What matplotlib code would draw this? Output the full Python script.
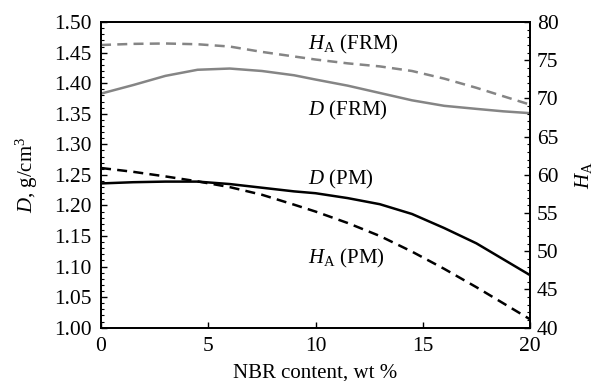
import matplotlib
matplotlib.use('Agg')
import matplotlib.pyplot as plt
from matplotlib.ticker import MultipleLocator

plt.rcParams['font.family'] = ['Liberation Serif', 'DejaVu Serif']
plt.rcParams['mathtext.fontset'] = 'custom'
plt.rcParams['mathtext.rm'] = 'Liberation Serif'
plt.rcParams['mathtext.it'] = 'Liberation Serif:italic'

# NBR content, wt %
nbr = [0, 1.5, 3, 4.5, 6, 7.5, 9, 10, 11.5, 13, 14.5, 16, 17.5, 18.75, 20]
# density, g/cm3 (left axis)
d_frm = [1.383, 1.397, 1.412, 1.422, 1.424, 1.420, 1.413, 1.406, 1.396, 1.384,
         1.372, 1.363, 1.358, 1.354, 1.351]
d_pm = [1.236, 1.238, 1.239, 1.239, 1.235, 1.229, 1.223, 1.220, 1.212, 1.202,
        1.186, 1.163, 1.138, 1.112, 1.086]
# hardness H_A (right axis)
ha_frm = [77.0, 77.15, 77.2, 77.1, 76.8, 76.1, 75.5, 75.1, 74.6, 74.2,
          73.6, 72.6, 71.4, 70.3, 69.2]
ha_pm = [60.9, 60.4, 59.8, 59.15, 58.4, 57.4, 56.1, 55.2, 53.7, 52.0,
         49.95, 47.7, 45.3, 43.2, 41.1]

gray = '#858585'
fs = 15

fig, ax = plt.subplots(figsize=(6.05, 3.81), dpi=100)
fig.subplots_adjust(left=0.167, right=0.876, top=0.942, bottom=0.14)
ax2 = ax.twinx()

ax.plot(nbr, d_frm, color=gray, lw=1.8)
ax.plot(nbr, d_pm, color='black', lw=1.8)
ax2.plot(nbr, ha_frm, color=gray, lw=1.8, ls=(0, (4, 2.5)))
ax2.plot(nbr, ha_pm, color='black', lw=1.8, ls=(0, (4, 2.5)))

ax.set_xlim(0, 20)
ax.set_ylim(1.0, 1.5)
ax2.set_ylim(40, 80)
ax.xaxis.set_major_locator(MultipleLocator(5))
ax.yaxis.set_major_locator(MultipleLocator(0.05))
ax.yaxis.set_minor_locator(MultipleLocator(0.01))
ax2.yaxis.set_major_locator(MultipleLocator(5))
ax2.yaxis.set_minor_locator(MultipleLocator(1))
ax.yaxis.set_major_formatter(plt.FormatStrFormatter('%.2f'))

for a in (ax, ax2):
    a.tick_params(which='major', direction='in', length=4, width=1, labelsize=15.5)
    a.tick_params(which='minor', direction='in', length=2.2, width=0.8)
    for s in a.spines.values():
        s.set_linewidth(1.3)
ax.tick_params(axis='x', top=False, pad=7)
ax.tick_params(axis='y', pad=7)
ax2.tick_params(axis='y', right=True, left=False, pad=5)

ax.set_xlabel('NBR content, wt %', fontsize=fs, labelpad=5)
ax.set_ylabel(r'$D$, g/cm$^3$', fontsize=fs, labelpad=10)
ax2.set_ylabel(r'$H_\mathrm{A}$', fontsize=fs, labelpad=10)

ax.text(9.65, 1.456, r'$H_\mathrm{A}$ (FRM)', fontsize=fs, va='baseline')
ax.text(9.65, 1.348, r'$D$ (FRM)', fontsize=fs, va='baseline')
ax.text(9.65, 1.235, r'$D$ (PM)', fontsize=fs, va='baseline')
ax.text(9.65, 1.105, r'$H_\mathrm{A}$ (PM)', fontsize=fs, va='baseline')

fig.savefig('out.png', dpi=100)
